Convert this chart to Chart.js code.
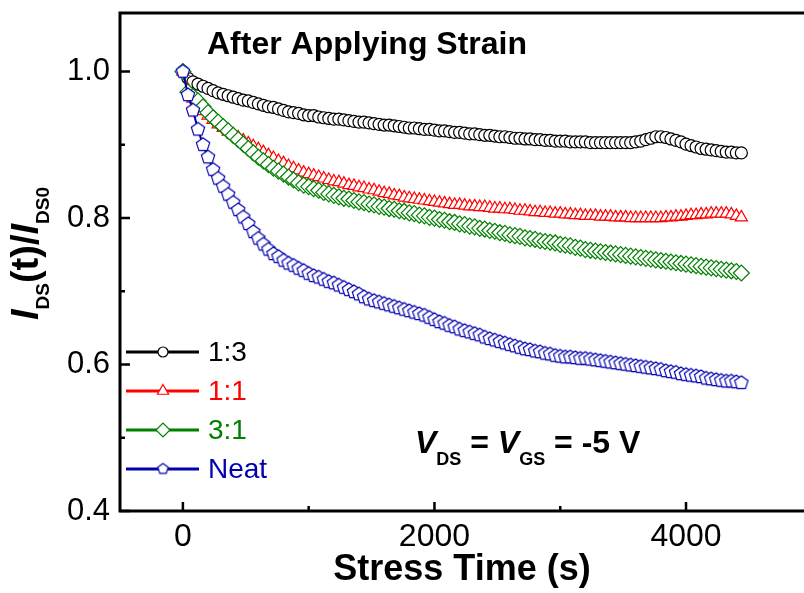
<!DOCTYPE html>
<html>
<head>
<meta charset="utf-8">
<script src="https://cdn.jsdelivr.net/npm/chart.js@4.4.1/dist/chart.umd.min.js"></script>
<style>
  html, body { margin: 0; padding: 0; background: #fff; }
  canvas { display: block; }
</style>
</head>
<body>
<canvas id="decayChart" width="804" height="593"></canvas>
<script>
// stress time (s) and normalised drain current for each blend ratio
const stressTime = [
    0, 40, 80, 120, 160, 200, 240, 280, 320, 360,
    400, 440, 480, 520, 560, 600, 640, 680, 720, 760,
    800, 840, 880, 920, 960, 1000, 1040, 1080, 1120, 1160,
    1200, 1240, 1280, 1320, 1360, 1400, 1440, 1480, 1520, 1560,
    1600, 1640, 1680, 1720, 1760, 1800, 1840, 1880, 1920, 1960,
    2000, 2040, 2080, 2120, 2160, 2200, 2240, 2280, 2320, 2360,
    2400, 2440, 2480, 2520, 2560, 2600, 2640, 2680, 2720, 2760,
    2800, 2840, 2880, 2920, 2960, 3000, 3040, 3080, 3120, 3160,
    3200, 3240, 3280, 3320, 3360, 3400, 3440, 3480, 3520, 3560,
    3600, 3640, 3680, 3720, 3760, 3800, 3840, 3880, 3920, 3960,
    4000, 4040, 4080, 4120, 4160, 4200, 4240, 4280, 4320, 4360,
    4400, 4440
];

const ratio13 = [
    1.000, 0.991, 0.986, 0.983, 0.980, 0.977, 0.974, 0.971, 0.969, 0.967,
    0.965, 0.963, 0.961, 0.960, 0.958, 0.956, 0.954, 0.952, 0.951, 0.949,
    0.947, 0.945, 0.944, 0.943, 0.941, 0.940, 0.940, 0.938, 0.937, 0.936,
    0.935, 0.935, 0.934, 0.933, 0.932, 0.931, 0.931, 0.930, 0.929, 0.928,
    0.927, 0.927, 0.926, 0.925, 0.924, 0.923, 0.923, 0.922, 0.921, 0.921,
    0.920, 0.919, 0.919, 0.918, 0.917, 0.917, 0.916, 0.915, 0.915, 0.914,
    0.913, 0.913, 0.912, 0.911, 0.911, 0.910, 0.909, 0.909, 0.908, 0.908,
    0.907, 0.907, 0.906, 0.906, 0.905, 0.905, 0.905, 0.904, 0.904, 0.904,
    0.904, 0.903, 0.903, 0.903, 0.903, 0.903, 0.903, 0.903, 0.903, 0.903,
    0.904, 0.905, 0.907, 0.909, 0.911, 0.911, 0.910, 0.908, 0.906, 0.904,
    0.901, 0.899, 0.897, 0.895, 0.894, 0.893, 0.892, 0.891, 0.890, 0.890,
    0.889, 0.889
];

const ratio11 = [
    1.000, 0.975, 0.963, 0.954, 0.946, 0.940, 0.934, 0.928, 0.923, 0.918,
    0.914, 0.910, 0.906, 0.902, 0.898, 0.894, 0.890, 0.886, 0.882, 0.878,
    0.875, 0.871, 0.868, 0.865, 0.862, 0.860, 0.858, 0.856, 0.854, 0.852,
    0.850, 0.849, 0.847, 0.845, 0.844, 0.842, 0.841, 0.839, 0.838, 0.836,
    0.834, 0.833, 0.831, 0.830, 0.828, 0.827, 0.826, 0.825, 0.824, 0.823,
    0.822, 0.821, 0.820, 0.819, 0.818, 0.818, 0.817, 0.816, 0.816, 0.815,
    0.815, 0.814, 0.813, 0.813, 0.812, 0.812, 0.811, 0.810, 0.810, 0.809,
    0.808, 0.808, 0.807, 0.807, 0.806, 0.806, 0.805, 0.805, 0.804, 0.804,
    0.803, 0.803, 0.803, 0.802, 0.802, 0.802, 0.801, 0.801, 0.801, 0.800,
    0.800, 0.800, 0.800, 0.800, 0.800, 0.800, 0.801, 0.801, 0.802, 0.802,
    0.803, 0.804, 0.804, 0.805, 0.805, 0.806, 0.806, 0.806, 0.806, 0.805,
    0.803, 0.801
];

const ratio31 = [
    1.000, 0.972, 0.966, 0.960, 0.952, 0.944, 0.937, 0.931, 0.925, 0.919,
    0.913, 0.907, 0.901, 0.895, 0.889, 0.883, 0.878, 0.873, 0.868, 0.864,
    0.860, 0.856, 0.852, 0.848, 0.845, 0.843, 0.840, 0.838, 0.835, 0.833,
    0.831, 0.829, 0.827, 0.826, 0.824, 0.822, 0.821, 0.819, 0.818, 0.816,
    0.815, 0.813, 0.812, 0.810, 0.809, 0.807, 0.806, 0.804, 0.803, 0.801,
    0.800, 0.798, 0.797, 0.795, 0.794, 0.792, 0.791, 0.789, 0.788, 0.786,
    0.785, 0.783, 0.782, 0.780, 0.779, 0.777, 0.776, 0.775, 0.773, 0.772,
    0.771, 0.769, 0.768, 0.767, 0.766, 0.764, 0.763, 0.762, 0.760, 0.759,
    0.757, 0.756, 0.755, 0.754, 0.753, 0.752, 0.751, 0.750, 0.749, 0.748,
    0.747, 0.746, 0.745, 0.744, 0.743, 0.742, 0.741, 0.740, 0.739, 0.738,
    0.737, 0.736, 0.735, 0.734, 0.733, 0.732, 0.731, 0.730, 0.729, 0.728,
    0.727, 0.725
];

const neat = [
    1.000, 0.968, 0.947, 0.921, 0.900, 0.883, 0.866, 0.854, 0.843, 0.832,
    0.821, 0.811, 0.801, 0.792, 0.781, 0.772, 0.764, 0.757, 0.751, 0.747,
    0.742, 0.738, 0.735, 0.731, 0.728, 0.724, 0.721, 0.719, 0.716, 0.713,
    0.711, 0.708, 0.705, 0.702, 0.699, 0.696, 0.692, 0.689, 0.687, 0.685,
    0.683, 0.681, 0.679, 0.677, 0.675, 0.673, 0.671, 0.669, 0.667, 0.664,
    0.661, 0.658, 0.656, 0.653, 0.651, 0.648, 0.646, 0.644, 0.642, 0.640,
    0.637, 0.635, 0.633, 0.631, 0.629, 0.627, 0.625, 0.623, 0.621, 0.620,
    0.618, 0.617, 0.615, 0.614, 0.612, 0.611, 0.610, 0.610, 0.609, 0.608,
    0.608, 0.607, 0.606, 0.605, 0.604, 0.603, 0.602, 0.601, 0.600, 0.599,
    0.598, 0.597, 0.596, 0.595, 0.594, 0.593, 0.591, 0.590, 0.589, 0.587,
    0.586, 0.585, 0.584, 0.583, 0.581, 0.580, 0.579, 0.578, 0.577, 0.577,
    0.576, 0.575
];

const seriesNames = ['1:3', '1:1', '3:1', 'Neat'];
const seriesColors = ['#000000', '#ff0000', '#008000', '#0000b0'];

const xMajorTicks = [0, 2000, 4000];
const xMinorTicks = [1000, 3000];
const yMajorTicks = [0.4, 0.6, 0.8, 1.0];
const yMinorTicks = [0.5, 0.7, 0.9];

const fontFamily = '"Liberation Sans", Arial, sans-serif';

// pentagon marker, chart.js has no built-in one
function pentagon(radius, color) {
    const size = Math.ceil(radius * 2 + 4);
    const c = document.createElement('canvas');
    c.width = size;
    c.height = size;
    const g = c.getContext('2d');
    g.beginPath();
    for (let k = 0; k < 5; k++) {
        const a = -Math.PI / 2 + k * 2 * Math.PI / 5;
        const px = size / 2 + radius * Math.cos(a);
        const py = size / 2 + radius * Math.sin(a);
        if (k === 0) g.moveTo(px, py); else g.lineTo(px, py);
    }
    g.closePath();
    g.fillStyle = '#fff';
    g.fill();
    g.lineWidth = 1.2;
    g.strokeStyle = color;
    g.stroke();
    return c;
}

const markerStyles = ['circle', 'triangle', 'rectRot', pentagon(7, seriesColors[3])];
const markerRadius = [6, 7, 8, 7];
const legendStyles = ['circle', 'triangle', 'rectRot', pentagon(5.5, seriesColors[3])];
const legendRadius = [5, 6.5, 7, 5.5];

function series(idx, values, order) {
    return {
        label: seriesNames[idx],
        data: stressTime.map((t, i) => ({ x: t, y: values[i] })),
        borderColor: seriesColors[idx],
        borderWidth: 2,
        pointStyle: markerStyles[idx],
        pointRadius: markerRadius[idx],
        pointBorderColor: seriesColors[idx],
        pointBackgroundColor: '#fff',
        pointBorderWidth: 1.2,
        order: order
    };
}

// axis frame, inward ticks, legend and annotations
const decorations = {
    id: 'decorations',
    afterDraw(chart) {
        const ctx = chart.ctx;
        const area = chart.chartArea;
        const xs = chart.scales.x;
        const ys = chart.scales.y;
        ctx.save();
        ctx.strokeStyle = '#000';
        ctx.lineWidth = 3;
        ctx.beginPath();
        ctx.moveTo(chart.width, area.top);
        ctx.lineTo(area.left, area.top);
        ctx.lineTo(area.left, area.bottom);
        ctx.lineTo(chart.width, area.bottom);
        ctx.stroke();

        ctx.lineWidth = 2.5;
        ctx.beginPath();
        xMajorTicks.forEach(v => { const p = xs.getPixelForValue(v); ctx.moveTo(p, area.bottom); ctx.lineTo(p, area.bottom - 9); });
        xMinorTicks.forEach(v => { const p = xs.getPixelForValue(v); ctx.moveTo(p, area.bottom); ctx.lineTo(p, area.bottom - 5); });
        yMajorTicks.forEach(v => { const p = ys.getPixelForValue(v); ctx.moveTo(area.left, p); ctx.lineTo(area.left + 10, p); });
        yMinorTicks.forEach(v => { const p = ys.getPixelForValue(v); ctx.moveTo(area.left, p); ctx.lineTo(area.left + 5, p); });
        ctx.stroke();

        // legend
        const rows = [352, 391, 430, 469];
        seriesNames.forEach((name, i) => {
            const y = rows[i];
            ctx.strokeStyle = seriesColors[i];
            ctx.lineWidth = 3;
            ctx.beginPath();
            ctx.moveTo(126, y);
            ctx.lineTo(199, y);
            ctx.stroke();
            ctx.fillStyle = '#fff';
            ctx.lineWidth = 1.2;
            Chart.helpers.drawPoint(ctx, { pointStyle: legendStyles[i], radius: legendRadius[i], borderWidth: 1.2, rotation: 0 }, 163, y);
            ctx.fillStyle = seriesColors[i];
            ctx.font = '28px ' + fontFamily;
            ctx.textBaseline = 'middle';
            ctx.textAlign = 'left';
            ctx.fillText(name, 208, y + 1);
        });

        ctx.fillStyle = '#000';
        ctx.textBaseline = 'alphabetic';
        ctx.font = 'bold 32px ' + fontFamily;
        ctx.fillText('After Applying Strain', 207, 54);

        // bias condition
        const runs = [
            ['V', 'italic bold 32px', 0],
            ['DS', 'bold 18px', 12],
            [' = ', 'bold 32px', 0],
            ['V', 'italic bold 32px', 0],
            ['GS', 'bold 18px', 12],
            [' = -5 V', 'bold 32px', 0]
        ];
        let x = 415;
        runs.forEach(([txt, f, dy]) => {
            ctx.font = f + ' ' + fontFamily;
            ctx.fillText(txt, x, 453 + dy);
            x += ctx.measureText(txt).width;
        });

        // rotated y title
        const yRuns = [
            ['I', 'italic bold 38px', 0],
            ['DS', 'bold 19px', 11],
            ['(t)/', 'bold 38px', 0],
            ['I', 'italic bold 38px', 0],
            ['DS0', 'bold 19px', 11]
        ];
        ctx.translate(38, 320);
        ctx.rotate(-Math.PI / 2);
        let yx = 0;
        yRuns.forEach(([txt, f, dy]) => {
            ctx.font = f + ' ' + fontFamily;
            ctx.fillText(txt, yx, dy);
            yx += ctx.measureText(txt).width;
        });
        ctx.restore();
    }
};

const chartConfig = {
    type: 'line',
    data: {
        datasets: [
            series(0, ratio13, 4),
            series(1, ratio11, 3),
            series(2, ratio31, 2),
            series(3, neat, 1)
        ]
    },
    options: {
        responsive: false,
        animation: false,
        layout: { autoPadding: false, padding: { top: 13, left: 0, right: 0, bottom: 0 } },
        plugins: { legend: { display: false }, tooltip: { enabled: false } },
        scales: {
            x: {
                type: 'linear',
                min: -500,
                max: 4938,
                afterBuildTicks: s => { s.ticks = xMajorTicks.map(v => ({ value: v })); },
                afterFit: s => { s.height = 82; s.paddingLeft = 0; s.paddingRight = 0; },
                grid: { display: false, drawTicks: false },
                border: { display: false },
                ticks: {
                    font: { family: fontFamily, size: 32 },
                    color: '#000',
                    padding: 7,
                    maxRotation: 0,
                    callback: v => String(v)
                },
                title: {
                    display: true,
                    text: 'Stress Time (s)',
                    color: '#000',
                    font: { family: fontFamily, size: 36, weight: 'bold' },
                    padding: { top: 0, bottom: 1 }
                }
            },
            y: {
                type: 'linear',
                min: 0.4,
                max: 1.08,
                afterBuildTicks: s => { s.ticks = yMajorTicks.map(v => ({ value: v })); },
                afterFit: s => { s.width = 120; s.paddingTop = 0; s.paddingBottom = 0; },
                grid: { display: false, drawTicks: false },
                border: { display: false },
                ticks: {
                    font: { family: fontFamily, size: 31 },
                    color: '#000',
                    padding: 10,
                    callback: v => v.toFixed(1)
                }
            }
        }
    },
    plugins: [decorations]
};

const decayChart = new Chart(document.getElementById('decayChart'), chartConfig);
</script>
</body>
</html>
